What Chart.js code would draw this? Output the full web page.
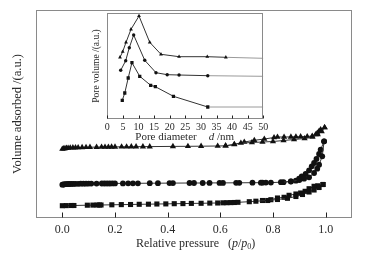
<!DOCTYPE html>
<html><head><meta charset="utf-8">
<script src="https://cdn.jsdelivr.net/npm/chart.js@4/dist/chart.umd.min.js"></script>
<style>
html,body{margin:0;padding:0;background:#fff;}
#wrap{position:relative;width:366px;height:262px;}
#wrap canvas{position:absolute;left:0;top:0;}
</style></head><body>
<div id="wrap"><canvas id="main" width="366" height="262" style="width:366px;height:262px"></canvas><canvas id="inset" width="366" height="262" style="width:366px;height:262px"></canvas></div>
<script>
// ---------- main isotherms (relative pressure p/p0, volume adsorbed a.u.) ----------
const X_TICKS = [0, 0.2, 0.4, 0.6, 0.8, 1.0];

const triAdsP = [0,0.005,0.01,0.016,0.022,0.03,0.04,0.05,0.06,0.075,0.09,0.105,0.13,0.149,0.162,0.175,0.187,0.2,0.225,0.244,0.262,0.28,0.306,0.332,0.42,0.477,0.527,0.59,0.62,0.653,0.678,0.72,0.76,0.80,0.84,0.88,0.92,0.95,0.97,0.985,0.996];
const triAdsV = [69,69.3,69.6,69.8,70,70.2,70.3,70.4,70.5,70.6,70.7,70.8,70.9,71,71,71,71.1,71.1,71.2,71.2,71.3,71.3,71.4,71.4,71.6,71.7,71.8,72,72.2,73.5,75,75.5,76,76.5,77.5,78.5,79.5,81,83.5,86.5,90.5];
const triDesP = [0.996,0.981,0.975,0.968,0.962,0.949,0.93,0.905,0.887,0.868,0.842,0.817,0.804,0.767,0.729,0.691,0.653,0.62];
const triDesV = [90.5,88.5,87,85,83.5,82,81.5,81.3,81.2,81.1,81,81,80.5,79,77.7,76,73.7,72.2];

const cirAdsP = [0,0.004,0.008,0.012,0.017,0.022,0.028,0.035,0.042,0.05,0.06,0.07,0.08,0.09,0.1,0.11,0.13,0.15,0.16,0.17,0.18,0.19,0.2,0.23,0.25,0.268,0.287,0.332,0.363,0.407,0.42,0.483,0.5,0.533,0.559,0.597,0.61,0.66,0.672,0.722,0.754,0.76,0.773,0.792,0.83,0.868,0.9,0.918,0.937,0.956,0.968,0.975,0.987,0.994];
const cirAdsV = [33.3,33.5,33.7,33.8,33.9,34,34,34.1,34.1,34.2,34.2,34.3,34.3,34.3,34.4,34.4,34.4,34.5,34.5,34.5,34.5,34.6,34.6,34.6,34.7,34.7,34.7,34.8,34.8,34.9,34.9,35,35,35,35.1,35.1,35.1,35.2,35.2,35.3,35.3,35.3,35.4,35.4,35.8,36.5,38,39.3,40.7,45,49.3,53.3,61.7,76.7];
const cirDesP = [0.994,0.981,0.975,0.965,0.956,0.947,0.937,0.924,0.909,0.899,0.887,0.868,0.84];
const cirDesV = [76.7,68.3,64,59,55,51.7,47.7,44,41.7,39.3,37.3,36.7,35.8];

const sqAdsP = [0,0.015,0.034,0.044,0.095,0.116,0.132,0.141,0.147,0.188,0.224,0.259,0.292,0.327,0.359,0.393,0.425,0.458,0.49,0.527,0.56,0.59,0.61,0.625,0.64,0.653,0.667,0.71,0.735,0.78,0.817,0.855,0.887,0.912,0.937,0.956,0.975,0.99];
const sqAdsV = [12.3,12.4,12.5,12.5,12.8,12.9,13,13,13,13.2,13.4,13.5,13.7,13.8,14,14.1,14.3,14.4,14.6,14.7,14.9,15,15.2,15.3,15.4,15.5,15.7,16.3,16.8,17.5,18.5,19.7,21.5,23.5,26,28,30.5,33.5];
const sqDesP = [0.99,0.97,0.956,0.937,0.922,0.905,0.887,0.861,0.842,0.817,0.792,0.76];
const sqDesV = [33.5,32.2,31.7,29.3,26.7,25,24,22.7,20.7,20,18.3,17.5];

// ---------- inset: pore size distribution (pore diameter d / nm, pore volume a.u.) ----------
const D_TICKS = [0,5,10,15,20,25,30,35,40,45,50];
const psdTriD = [4.07,4.94,6.0,7.6,10.16,13.6,17.2,23.0,32.05,38.0,50];
const psdTriV = [62,67.6,77,90,103.3,77,65,62.6,62.6,62,61];
const psdCirD = [4.3,5.9,7.05,8.45,12.0,15.6,19.2,23.0,32.2,50];
const psdCirV = [49,58.6,71.6,84.3,59,46.6,44.6,44.3,43.6,43];
const psdSqD  = [4.8,5.6,6.7,7.9,10.4,13.9,15.4,21.2,32.2,50];
const psdSqV  = [19,26.3,41.3,56.6,43,34,32.6,23,12.3,12.3];

const SERIF = '"Liberation Serif","Times New Roman",serif';
const TXT = '#2a2a2a';

function pts(xs, ys){ return xs.map((x,i)=>({x:x, y:ys[i]})); }

function frameTicks(id, tickLen){
  return {id:id, afterDraw(chart){
    const ctx = chart.ctx, a = chart.chartArea, xs = chart.scales.x;
    const L = Math.round(a.left)+0.5, T = Math.round(a.top)+0.5, R = Math.round(a.right)-0.5, B = Math.round(a.bottom)-0.5;
    ctx.save();
    ctx.strokeStyle = '#8a8a8a'; ctx.lineWidth = 1;
    ctx.strokeRect(L, T, R-L, B-T);
    ctx.strokeStyle = '#222';
    xs.ticks.forEach(t=>{
      const px = Math.round(xs.getPixelForValue(t.value))+0.5;
      ctx.beginPath(); ctx.moveTo(px, B); ctx.lineTo(px, B-tickLen); ctx.stroke();
    });
    ctx.restore();
  }};
}

function drawParts(ctx, parts, x, y){
  parts.forEach(p=>{
    ctx.font = p.font; ctx.fillStyle = TXT; ctx.textBaseline = 'middle'; ctx.textAlign = 'left';
    if (p.gap) x += p.gap;
    ctx.fillText(p.t, x, y + (p.dy||0));
    x += ctx.measureText(p.t).width;
  });
}

const mainTitle = {id:'mainTitle', afterDraw(chart){
  const ctx = chart.ctx, a = chart.chartArea;
  ctx.save();
  const f = '12px '+SERIF, fi = 'italic 12px '+SERIF, fs = '8px '+SERIF;
  drawParts(ctx, [
    {t:'Relative pressure', font:f},
    {t:'(', font:f, gap:9},
    {t:'p', font:fi},
    {t:'/', font:f},
    {t:'p', font:fi},
    {t:'0', font:fs, dy:3},
    {t:')', font:f}
  ], a.left + 100, 244);
  ctx.restore();
}};

const insetTitle = {id:'insetTitle', afterDraw(chart){
  const ctx = chart.ctx, a = chart.chartArea;
  ctx.save();
  const f = '11px '+SERIF, fi = 'italic 11px '+SERIF;
  drawParts(ctx, [
    {t:'Pore diameter', font:f},
    {t:'d', font:fi, gap:12},
    {t:' /nm', font:f}
  ], a.left + 28, 137);
  ctx.restore();
}};

function ds(data, style, r){
  return {data:data, showLine:true, borderColor:'#333', borderWidth:1, tension:0,
    pointStyle:style, pointRadius:r, pointHoverRadius:r, pointBackgroundColor:'#111', pointBorderWidth:0};
}

new Chart(document.getElementById('main'), {
  type:'scatter',
  data:{datasets:[
    ds(pts(triAdsP,triAdsV),'triangle',3.6),
    ds(pts(triDesP,triDesV),'triangle',3.6),
    ds(pts(cirAdsP,cirAdsV),'circle',2.9),
    ds(pts(cirDesP,cirDesV),'circle',2.9),
    ds(pts(sqAdsP,sqAdsV),'rect',3.6),
    ds(pts(sqDesP,sqDesV),'rect',3.6)
  ]},
  options:{
    responsive:false, animation:false, events:[],
    layout:{padding:{left:0,right:14,top:10,bottom:0}},
    plugins:{legend:{display:false}, tooltip:{enabled:false}},
    scales:{
      x:{type:'linear', min:-0.1, max:1.1,
        afterBuildTicks:s=>{ s.ticks = X_TICKS.map(v=>({value:v})); },
        afterFit:s=>{ s.height = 44; },
        grid:{display:true, drawOnChartArea:false, drawTicks:false},
        border:{display:false},
        ticks:{autoSkip:false, maxRotation:0, padding:5, color:TXT, font:{family:SERIF, size:12},
          callback:v=>Number(v).toFixed(1)},
        title:{display:false}},
      y:{type:'linear', min:0, max:208,
        afterFit:s=>{ s.width = 36; },
        grid:{display:false}, border:{display:false},
        ticks:{display:false},
        title:{display:true, text:'Volume adsorbed /(a.u.)', color:TXT, font:{family:SERIF, size:12.5}, padding:{top:10,bottom:0}}}
    }
  },
  plugins:[frameTicks('mainFrame',5), mainTitle]
});

function insetDs(data, style, r){
  const d = ds(data, style, r);
  d.pointRadius = c => (c.raw && c.raw.x >= 50) ? 0 : r;
  d.segment = {borderColor: c => (c.p1 && c.p1.parsed.x >= 50) ? '#9a9a9a' : '#333'};
  return d;
}

new Chart(document.getElementById('inset'), {
  type:'scatter',
  data:{datasets:[
    insetDs(pts(psdTriD,psdTriV),'triangle',2.2),
    insetDs(pts(psdCirD,psdCirV),'circle',1.7),
    insetDs(pts(psdSqD,psdSqV),'rect',2.3)
  ]},
  options:{
    responsive:false, animation:false, events:[],
    layout:{padding:{left:89,right:102.7,top:12.7,bottom:0}},
    plugins:{legend:{display:false}, tooltip:{enabled:false}},
    scales:{
      x:{type:'linear', min:0, max:50,
        afterBuildTicks:s=>{ s.ticks = D_TICKS.map(v=>({value:v})); },
        afterFit:s=>{ s.height = 142.7; },
        grid:{display:true, drawOnChartArea:false, drawTicks:false},
        border:{display:false},
        ticks:{autoSkip:false, maxRotation:0, padding:2, color:TXT, font:{family:SERIF, size:10}},
        title:{display:false}},
      y:{type:'linear', min:0, max:106.6,
        afterFit:s=>{ s.width = 18.3; },
        grid:{display:false}, border:{display:false},
        ticks:{display:false},
        title:{display:true, text:'Pore volume /(a.u.)', color:TXT, font:{family:SERIF, size:9.5}, padding:{top:2,bottom:0}}}
    }
  },
  plugins:[frameTicks('insetFrame',3), insetTitle]
});
</script>
</body></html>
